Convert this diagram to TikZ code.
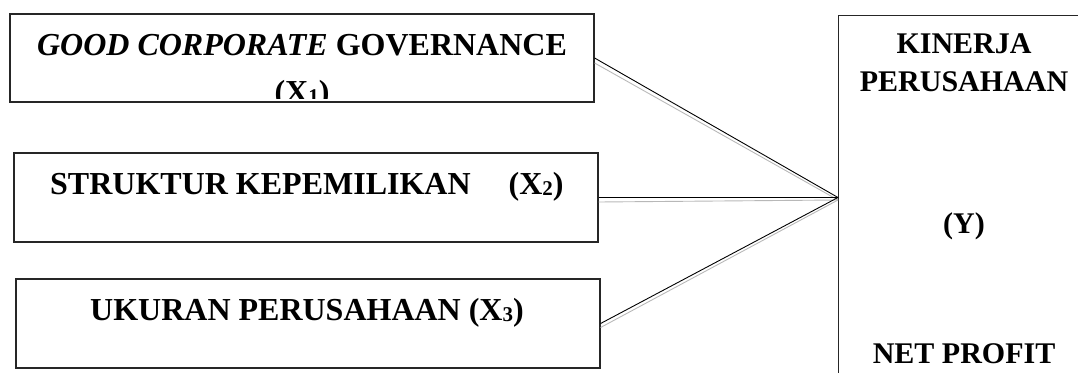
\documentclass[tikz,border=0pt]{standalone}
\usepackage{fontspec}
\setmainfont{Liberation Serif}
\newcommand\subdigit[1]{\raisebox{-1.5pt}{\fontsize{21}{21}\selectfont #1}}
\begin{document}
\begin{tikzpicture}[x=1pt,y=-1pt,
  box/.style={draw=black!85, line width=1.2pt, inner sep=0pt},
  lbl/.style={font=\fontsize{32}{36}\selectfont\bfseries, inner sep=0pt},
  rlbl/.style={font=\fontsize{30}{34}\selectfont\bfseries, inner sep=0pt},
  link/.style={line width=0.9pt, draw=black},
  linkg/.style={line width=0.9pt, draw=black!28}]
\useasboundingbox (0,0) rectangle (1078,372);
% boxes
\node[box, minimum width=584pt, minimum height=88pt] (b1) at (302,58) {};
\node[box, minimum width=584pt, minimum height=89pt] (b2) at (306,197.5) {};
\node[box, minimum width=584pt, minimum height=89pt] (b3) at (308,323.5) {};
\node[box, minimum width=400pt, minimum height=420pt, anchor=north west] (yb) at (838,15) {};
% texts
\node[lbl, anchor=base] (t1) at (302,55) {\textit{GOOD CORPORATE} GOVERNANCE};
\begin{scope}
\clip (b1.north west) rectangle ([yshift=4pt]b1.south east);
\node[lbl, anchor=base] (t1b) at (302,102) {(X\subdigit{1})};
\end{scope}
\node[lbl, anchor=base west] (t2) at (50,194) {STRUKTUR KEPEMILIKAN\hspace{38pt}(X\subdigit{2})};
\node[lbl, anchor=base west] (t3) at (90,320) {UKURAN PERUSAHAAN (X\subdigit{3})};
\node[rlbl, anchor=base] (ty1) at (964,53) {KINERJA};
\node[rlbl, anchor=base] (ty2) at (964,91) {PERUSAHAAN};
\node[rlbl, anchor=base] (ty3) at (964,233) {(Y)};
\node[rlbl, anchor=base] (ty4) at (964,363) {NET PROFIT};
% connectors
\coordinate (c) at (yb.west |- b2.east);
\coordinate (cg) at (838,200);
\draw[linkg] ([yshift=-5pt]b1.east) -- (cg);
\draw[linkg] ([yshift=-4.5pt]b2.east) -- (cg);
\draw[linkg] ([yshift=-4pt]b3.east) -- (cg);
\draw[link] (b1.east) -- (c);
\draw[link] (b2.east) -- (c);
\draw[link] (b3.east) -- (c);
\end{tikzpicture}
\end{document}
